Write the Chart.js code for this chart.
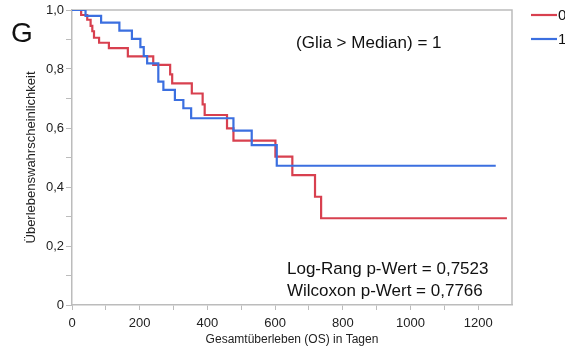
<!DOCTYPE html>
<html>
<head>
<meta charset="utf-8">
<script src="https://cdn.jsdelivr.net/npm/chart.js@4/dist/chart.umd.min.js"></script>
<style>
  html, body { margin: 0; padding: 0; background: #fff; }
  #wrap { width: 565px; height: 352px; }
</style>
</head>
<body>
<div id="wrap"><canvas id="km" width="565" height="352"></canvas></div>
<script>
// Kaplan-Meier curves: event times (days) and survival probability after each event
const groupLabels = ['0', '1'];
const group0Times = [27, 45, 55, 60, 65, 80, 109, 165, 240, 290, 296, 354, 386, 392, 458, 477, 601, 651, 718, 736];
const group0Surv  = [0.983, 0.967, 0.946, 0.928, 0.906, 0.889, 0.871, 0.843, 0.814, 0.782, 0.751, 0.717, 0.680, 0.644, 0.599, 0.557, 0.503, 0.440, 0.367, 0.294];
const group0End   = 1285;
const group1Times = [40, 86, 140, 177, 202, 212, 222, 255, 270, 304, 329, 352, 477, 531, 605];
const group1Surv  = [0.980, 0.957, 0.930, 0.902, 0.874, 0.844, 0.819, 0.757, 0.729, 0.695, 0.667, 0.633, 0.591, 0.542, 0.472];
const group1End   = 1252;

const xTickValues = [0, 200, 400, 600, 800, 1000, 1200];
const panelLetter = 'G';
const subsetText = '(Glia > Median) = 1';
const testTexts = ['Log-Rang p-Wert = 0,7523', 'Wilcoxon p-Wert = 0,7766'];

const RED = '#d8404f';
const BLUE = '#3b6fe0';
const AXIS = '#bcbcbc';
const FONT = "'Liberation Sans', Arial, Helvetica, sans-serif";

function kmPoints(times, surv, end) {
  const pts = [{ x: 0, y: 1 }];
  times.forEach((t, i) => pts.push({ x: t, y: surv[i] }));
  pts.push({ x: end, y: surv[surv.length - 1] });
  return pts;
}

function deComma(v) {
  return v === 0 ? '0' : v.toFixed(1).replace('.', ',');
}

// frame on top and right sides of the plot area
const framePlugin = {
  id: 'frame',
  beforeDatasetsDraw(chart) {
    const { ctx, chartArea: a } = chart;
    ctx.save();
    ctx.strokeStyle = AXIS;
    ctx.lineWidth = 1.5;
    ctx.beginPath();
    ctx.moveTo(a.left, a.top);
    ctx.lineTo(a.right, a.top);
    ctx.lineTo(a.right, a.bottom);
    ctx.stroke();
    ctx.restore();
  }
};

// series legend to the right of the plot
const sideLegend = {
  id: 'sideLegend',
  afterDraw(chart) {
    const { ctx, chartArea: a } = chart;
    const rows = [0, 1].map(i => chart.data.datasets.find(d => d.label === groupLabels[i]));
    ctx.save();
    rows.forEach((ds, i) => {
      const y = 15 + i * 24;
      ctx.strokeStyle = ds.borderColor;
      ctx.lineWidth = 2.2;
      ctx.beginPath();
      ctx.moveTo(a.right + 19, y);
      ctx.lineTo(a.right + 45, y);
      ctx.stroke();
      ctx.fillStyle = '#111';
      ctx.font = '15px ' + FONT;
      ctx.textBaseline = 'middle';
      ctx.textAlign = 'left';
      ctx.fillText(ds.label, a.right + 46, y + 1);
    });
    ctx.restore();
  }
};

// panel letter, subset caption and test statistics
const notes = {
  id: 'notes',
  afterDraw(chart) {
    const { ctx } = chart;
    ctx.save();
    ctx.fillStyle = '#111';
    ctx.textAlign = 'left';
    ctx.textBaseline = 'alphabetic';
    ctx.font = '28px ' + FONT;
    ctx.fillText(panelLetter, 11, 42);
    ctx.font = '17px ' + FONT;
    ctx.fillText(subsetText, 296, 48);
    ctx.fillText(testTexts[0], 287, 274);
    ctx.fillText(testTexts[1], 287, 296);
    ctx.restore();
  }
};

new Chart(document.getElementById('km'), {
  type: 'line',
  data: {
    datasets: [
      {
        label: groupLabels[0],
        data: kmPoints(group0Times, group0Surv, group0End),
        borderColor: RED,
        borderWidth: 2.2,
        stepped: 'before',
        pointRadius: 0,
        fill: false,
        order: 2
      },
      {
        label: groupLabels[1],
        data: kmPoints(group1Times, group1Surv, group1End),
        borderColor: BLUE,
        borderWidth: 2.2,
        stepped: 'before',
        pointRadius: 0,
        fill: false,
        order: 1
      }
    ]
  },
  options: {
    responsive: false,
    animation: false,
    events: [],
    layout: { padding: { top: 10, right: 53, bottom: 0, left: 0 } },
    plugins: { legend: { display: false }, tooltip: { enabled: false } },
    scales: {
      x: {
        type: 'linear',
        min: 0,
        max: 1300,
        afterFit(scale) { scale.height = 47; },
        border: { color: AXIS, width: 1.5 },
        grid: {
          drawOnChartArea: false,
          tickLength: 5,
          tickColor: ctx => (ctx.tick && ctx.tick.value === 1300 ? 'rgba(0,0,0,0)' : AXIS)
        },
        ticks: {
          stepSize: 100,
          autoSkip: false,
          maxRotation: 0,
          padding: 6,
          color: '#222',
          font: { family: FONT, size: 13 },
          callback: v => (xTickValues.includes(v) ? String(v) : '')
        },
        title: {
          display: true,
          text: 'Gesamtüberleben (OS) in Tagen',
          color: '#222',
          font: { family: FONT, size: 12 },
          padding: { top: 0, bottom: 5 }
        }
      },
      y: {
        min: 0,
        max: 1,
        afterFit(scale) { scale.width = 72; },
        border: { color: AXIS, width: 1.5 },
        grid: { drawOnChartArea: false, tickLength: 6, tickColor: AXIS },
        ticks: {
          stepSize: 0.1,
          autoSkip: false,
          padding: 2,
          color: '#222',
          font: { family: FONT, size: 13 },
          callback: v => {
            const r = Math.round(v * 10);
            return r % 2 === 0 ? deComma(r / 10) : '';
          }
        },
        title: {
          display: true,
          text: 'Überlebenswahrscheinlichkeit',
          color: '#222',
          font: { family: FONT, size: 13 },
          padding: { top: 24, bottom: 0 }
        }
      }
    }
  },
  plugins: [framePlugin, sideLegend, notes]
});
</script>
</body>
</html>
